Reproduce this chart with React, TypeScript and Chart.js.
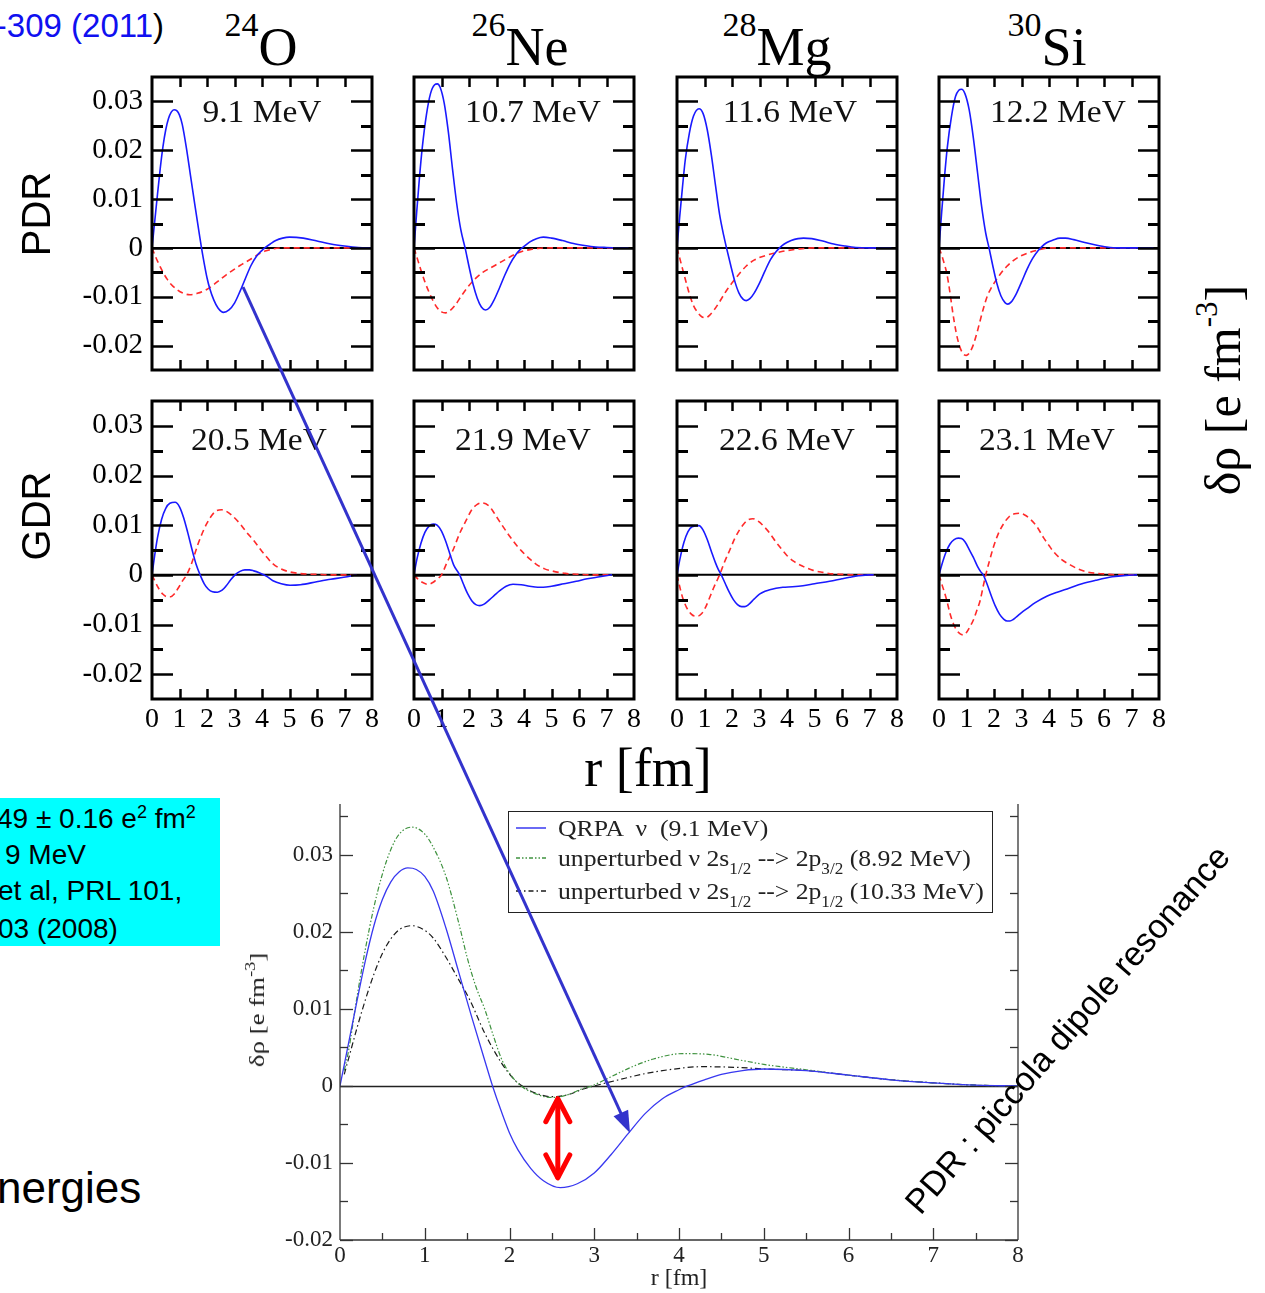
import React, { useEffect, useRef } from "react";
import { Chart, registerables } from "chart.js";

Chart.register(...registerables);

// ---------------- tick labels / ranges ----------------
const R_TICKS = [0, 1, 2, 3, 4, 5, 6, 7, 8];
const SMALL_DRHO_TICKS = [-0.02, -0.01, 0, 0.01, 0.02, 0.03];
const BIG_DRHO_TICKS = [-0.02, -0.01, 0, 0.01, 0.02, 0.03];
const SMALL_DRHO_MIN = -0.025;
const SMALL_DRHO_MAX = 0.035;
const BIG_DRHO_MIN = -0.02;
const BIG_DRHO_MAX = 0.0366;
const R_MIN = 0;
const R_MAX = 8;

// ---------------- categories ----------------
const NUCLEUS_MASS = ["24", "26", "28", "30"];
const NUCLEUS_SYMBOL = ["O", "Ne", "Mg", "Si"];
const PDR_ENERGY = ["9.1 MeV", "10.7 MeV", "11.6 MeV", "12.2 MeV"];
const GDR_ENERGY = ["20.5 MeV", "21.9 MeV", "22.6 MeV", "23.1 MeV"];

// ---------------- series: [r (fm), delta rho (e fm^-3)] ----------------
// 24O PDR 9.1 MeV neutron (QRPA) transition density – also the big panel curve
const O24_PDR_N = [[0,0],[0.1,0.0055],[0.2,0.011],[0.3,0.0163],[0.4,0.0208],[0.5,0.0242],[0.6,0.0265],[0.7,0.0278],[0.8,0.0283],[0.9,0.0281],[1.0,0.0272],[1.1,0.0253],[1.25,0.0205],[1.4,0.0148],[1.55,0.0091],[1.7,0.0036],[1.8,0],[1.9,-0.0032],[2.0,-0.0061],[2.1,-0.0083],[2.25,-0.0107],[2.4,-0.0123],[2.6,-0.0132],[2.8,-0.0127],[3.0,-0.0113],[3.2,-0.0089],[3.4,-0.0062],[3.6,-0.0036],[3.8,-0.0017],[4.0,-0.0005],[4.1,0],[4.3,0.0008],[4.5,0.0015],[4.75,0.002],[5.0,0.0022],[5.5,0.002],[6.0,0.0014],[6.5,0.0008],[7.0,0.0004],[7.5,0.0001],[8.0,0]];
const O24_PDR_P = [[0,0],[0.1,-0.0014],[0.2,-0.0027],[0.3,-0.0039],[0.41,-0.0051],[0.55,-0.0064],[0.7,-0.0075],[0.9,-0.0085],[1.1,-0.0092],[1.38,-0.0096],[1.65,-0.0093],[1.99,-0.0085],[2.25,-0.0075],[2.47,-0.0065],[2.7,-0.0055],[2.96,-0.0045],[3.2,-0.0036],[3.44,-0.0028],[3.7,-0.0019],[3.93,-0.0011],[4.15,-0.0006],[4.41,-0.0002],[4.8,0],[6,0],[7.3,0]];

const NE26_PDR_N = [[0,0],[0.1,0.0075],[0.2,0.0145],[0.3,0.0205],[0.45,0.0272],[0.6,0.0316],[0.75,0.0334],[0.85,0.0336],[0.95,0.0329],[1.1,0.0296],[1.25,0.0237],[1.4,0.0162],[1.55,0.0092],[1.7,0.0038],[1.87,-0.0003],[2.0,-0.0038],[2.15,-0.0075],[2.3,-0.0103],[2.45,-0.0121],[2.6,-0.0127],[2.75,-0.0122],[2.9,-0.0108],[3.1,-0.0083],[3.3,-0.0056],[3.5,-0.0032],[3.7,-0.0014],[3.85,-0.0004],[4.0,0.0003],[4.2,0.0012],[4.45,0.0019],[4.7,0.0022],[5.0,0.002],[5.4,0.0015],[5.8,0.0009],[6.2,0.0005],[6.6,0.0002],[7.0,0.0001],[7.8,0]];
const NE26_PDR_P = [[0,0],[0.1,-0.0018],[0.25,-0.0045],[0.4,-0.007],[0.55,-0.0091],[0.7,-0.0109],[0.85,-0.0123],[1.0,-0.0131],[1.15,-0.0133],[1.3,-0.0129],[1.5,-0.0117],[1.75,-0.0096],[2.0,-0.0077],[2.25,-0.0062],[2.5,-0.005],[2.75,-0.0042],[3.0,-0.0034],[3.25,-0.0026],[3.5,-0.0018],[3.75,-0.0011],[4.0,-0.0006],[4.25,-0.0003],[4.5,-0.0001],[5,0],[6,0],[7.3,0]];

const MG28_PDR_N = [[0,0],[0.1,0.0065],[0.2,0.0125],[0.3,0.018],[0.45,0.0235],[0.6,0.027],[0.8,0.0285],[0.95,0.0275],[1.1,0.0242],[1.25,0.019],[1.4,0.0128],[1.55,0.0068],[1.7,0.0025],[1.8,0],[1.95,-0.0035],[2.1,-0.0068],[2.25,-0.0092],[2.4,-0.0105],[2.52,-0.0108],[2.65,-0.0104],[2.8,-0.0093],[3.0,-0.0072],[3.2,-0.0047],[3.4,-0.0024],[3.6,-0.0008],[3.73,0],[3.9,0.0008],[4.15,0.0015],[4.4,0.0019],[4.6,0.002],[4.9,0.0019],[5.3,0.0014],[5.7,0.0008],[6.1,0.0004],[6.5,0.0001],[7.0,0],[7.8,0]];
const MG28_PDR_P = [[0,0],[0.1,-0.0021],[0.22,-0.0047],[0.35,-0.0074],[0.46,-0.0096],[0.6,-0.0118],[0.75,-0.0132],[0.9,-0.0141],[1.04,-0.0143],[1.2,-0.0137],[1.35,-0.0127],[1.53,-0.0112],[1.7,-0.0096],[1.85,-0.0083],[2.04,-0.0069],[2.25,-0.0054],[2.52,-0.0037],[2.8,-0.0025],[3.25,-0.0015],[3.85,-0.0007],[4.46,-0.0002],[5.0,0],[7.3,0]];

const SI30_PDR_N = [[0,0],[0.1,0.0075],[0.2,0.0145],[0.3,0.0205],[0.45,0.0268],[0.6,0.031],[0.72,0.0323],[0.82,0.0325],[0.95,0.0315],[1.1,0.0282],[1.25,0.0225],[1.4,0.0155],[1.55,0.0085],[1.7,0.003],[1.82,0],[1.95,-0.0035],[2.1,-0.0072],[2.25,-0.0098],[2.4,-0.0112],[2.5,-0.0115],[2.62,-0.0111],[2.8,-0.0095],[3.0,-0.007],[3.2,-0.0044],[3.4,-0.0022],[3.6,-0.0006],[3.73,0.0002],[3.9,0.001],[4.15,0.0016],[4.4,0.002],[4.6,0.002],[4.9,0.0017],[5.3,0.0011],[5.7,0.0006],[6.1,0.0002],[6.5,0],[7.8,0]];
const SI30_PDR_P = [[0,0],[0.1,-0.0015],[0.2,-0.0034],[0.28,-0.0051],[0.4,-0.0092],[0.5,-0.0132],[0.62,-0.0172],[0.74,-0.02],[0.87,-0.0216],[1.0,-0.022],[1.12,-0.0214],[1.25,-0.0198],[1.38,-0.0174],[1.5,-0.0148],[1.63,-0.0121],[1.76,-0.0098],[1.9,-0.0082],[2.04,-0.0069],[2.25,-0.0052],[2.46,-0.0038],[2.7,-0.0026],[2.95,-0.0017],[3.25,-0.001],[3.56,-0.0005],[4.05,0],[7.3,0]];

const O24_GDR_N = [[0,0],[0.1,0.004],[0.2,0.0075],[0.35,0.0112],[0.5,0.0134],[0.65,0.0144],[0.84,0.0146],[1.0,0.0137],[1.15,0.0115],[1.3,0.0085],[1.45,0.0052],[1.6,0.0022],[1.75,0],[1.9,-0.0018],[2.05,-0.0029],[2.2,-0.0034],[2.38,-0.0035],[2.55,-0.0031],[2.7,-0.0022],[2.85,-0.0011],[3.02,0],[3.2,0.0007],[3.38,0.001],[3.54,0.001],[3.7,0.0008],[3.9,0.0004],[4.17,-0.0003],[4.4,-0.0012],[4.7,-0.0018],[5.02,-0.0021],[5.4,-0.002],[5.99,-0.0014],[6.5,-0.0009],[6.97,-0.0005],[7.44,0]];
const O24_GDR_P = [[0,0],[0.1,-0.0012],[0.25,-0.0028],[0.4,-0.0039],[0.55,-0.0044],[0.68,-0.0044],[0.82,-0.0038],[0.95,-0.0027],[1.1,-0.0013],[1.26,0],[1.44,0.0023],[1.68,0.0063],[1.99,0.0103],[2.29,0.0127],[2.53,0.0131],[2.7,0.0128],[2.9,0.012],[3.2,0.0103],[3.45,0.0085],[3.69,0.007],[4.0,0.0047],[4.17,0.0036],[4.4,0.0022],[4.65,0.0013],[5.0,0.0006],[5.5,0.0002],[6.0,0.0001],[6.5,0],[7.44,0]];

const NE26_GDR_N = [[0,0],[0.1,0.003],[0.25,0.0063],[0.4,0.0086],[0.55,0.0098],[0.7,0.0102],[0.84,0.01],[1.0,0.0088],[1.15,0.0068],[1.3,0.0043],[1.45,0.0019],[1.66,0],[1.8,-0.0019],[1.95,-0.0038],[2.1,-0.0052],[2.25,-0.006],[2.39,-0.0062],[2.55,-0.0059],[2.75,-0.005],[2.95,-0.004],[3.12,-0.0032],[3.35,-0.0023],[3.6,-0.0019],[3.9,-0.002],[4.2,-0.0023],[4.5,-0.0025],[4.7,-0.0025],[5.0,-0.0023],[5.45,-0.0018],[5.9,-0.0013],[6.3,-0.0008],[6.75,-0.0004],[7.2,0]];
const NE26_GDR_P = [[0,0],[0.15,-0.0009],[0.3,-0.0015],[0.5,-0.0019],[0.7,-0.0015],[0.85,-0.0008],[1.0,0],[1.2,0.0025],[1.42,0.005],[1.65,0.0082],[1.9,0.011],[2.1,0.0131],[2.3,0.0142],[2.45,0.0145],[2.7,0.014],[2.85,0.013],[3.0,0.0117],[3.25,0.0096],[3.5,0.0076],[3.75,0.0058],[4.0,0.0043],[4.25,0.003],[4.5,0.0019],[4.75,0.0012],[5.0,0.0008],[5.5,0.0003],[6.0,0.0001],[6.5,0],[7.2,0]];

const MG28_GDR_N = [[0,0],[0.1,0.003],[0.25,0.0065],[0.4,0.0087],[0.55,0.0097],[0.8,0.0099],[0.95,0.009],[1.1,0.0071],[1.25,0.0047],[1.4,0.0024],[1.5,0.0011],[1.61,0],[1.75,-0.0017],[1.9,-0.0035],[2.05,-0.005],[2.2,-0.006],[2.35,-0.0064],[2.46,-0.0064],[2.6,-0.006],[2.8,-0.0049],[3.0,-0.0039],[3.2,-0.0033],[3.37,-0.003],[3.6,-0.0027],[3.85,-0.0025],[4.2,-0.0024],[4.58,-0.0022],[5.0,-0.0018],[5.55,-0.0013],[6.0,-0.0008],[6.28,-0.0005],[6.6,-0.0002],[7.0,0],[7.15,0]];
const MG28_GDR_P = [[0,0],[0.1,-0.0024],[0.2,-0.0045],[0.35,-0.0066],[0.5,-0.0078],[0.65,-0.0083],[0.76,-0.0083],[0.9,-0.0078],[1.05,-0.0064],[1.2,-0.0044],[1.35,-0.0024],[1.45,-0.0012],[1.55,0],[1.7,0.0022],[1.92,0.005],[2.1,0.0073],[2.28,0.0091],[2.45,0.0104],[2.6,0.0111],[2.76,0.0113],[2.95,0.0108],[3.15,0.0098],[3.37,0.0084],[3.6,0.0066],[3.8,0.0052],[3.98,0.004],[4.25,0.0027],[4.58,0.0017],[4.95,0.0009],[5.3,0.0005],[5.65,0.0002],[6.0,0.0001],[6.5,0],[7.15,0]];

const SI30_GDR_N = [[0,0],[0.1,0.002],[0.25,0.0045],[0.4,0.0062],[0.55,0.0071],[0.7,0.0074],[0.82,0.0073],[0.95,0.0066],[1.1,0.0051],[1.25,0.0035],[1.4,0.0017],[1.52,0.0006],[1.61,0],[1.75,-0.0019],[1.9,-0.0042],[2.05,-0.0063],[2.2,-0.0079],[2.35,-0.0089],[2.48,-0.0093],[2.58,-0.0093],[2.7,-0.009],[2.85,-0.0083],[3.0,-0.0076],[3.2,-0.0068],[3.5,-0.0056],[3.92,-0.0043],[4.3,-0.0035],[4.73,-0.0027],[5.2,-0.0018],[5.7,-0.0011],[6.3,-0.0004],[6.8,-0.0001],[7.2,0]];
const SI30_GDR_P = [[0,0],[0.1,-0.0018],[0.28,-0.0051],[0.4,-0.0078],[0.52,-0.0098],[0.65,-0.0112],[0.77,-0.0119],[0.89,-0.0121],[1.0,-0.0116],[1.12,-0.0105],[1.25,-0.0091],[1.38,-0.0071],[1.5,-0.0051],[1.6,-0.0025],[1.7,0],[1.84,0.0029],[1.98,0.0056],[2.15,0.0082],[2.35,0.0103],[2.55,0.0117],[2.75,0.0123],[2.92,0.0124],[3.1,0.0121],[3.3,0.0113],[3.56,0.0097],[3.8,0.0075],[4.0,0.0059],[4.16,0.0047],[4.45,0.0031],[4.77,0.002],[5.05,0.0012],[5.38,0.0006],[5.7,0.0003],[6.0,0.0002],[6.5,0],[7.2,0]];

// big panel: unperturbed 2s1/2 -> 2p3/2 (8.92 MeV) and 2s1/2 -> 2p1/2 (10.33 MeV)
const UNPERT_2S_2P32 = [[0.05,0.002],[0.1,0.0045],[0.2,0.0115],[0.3,0.0178],[0.4,0.0232],[0.5,0.0275],[0.6,0.0307],[0.7,0.0327],[0.85,0.0336],[1.0,0.0327],[1.1,0.031],[1.25,0.0272],[1.4,0.0212],[1.5,0.0167],[1.6,0.013],[1.71,0.0099],[1.81,0.0065],[1.91,0.0034],[2.03,0.0012],[2.15,-0.0001],[2.3,-0.001],[2.5,-0.0015],[2.7,-0.0011],[2.85,-0.0004],[2.97,0],[3.2,0.0012],[3.45,0.0025],[3.7,0.0035],[4.04,0.0042],[4.35,0.0041],[4.7,0.0034],[5.0,0.0028],[5.5,0.0021],[6.0,0.0014],[6.5,0.0008],[7.0,0.0004],[7.5,0.0001],[8.0,0]];
const UNPERT_2S_2P12 = [[0.05,0.0015],[0.1,0.0035],[0.2,0.0075],[0.3,0.0112],[0.4,0.0145],[0.5,0.0172],[0.6,0.0191],[0.7,0.0203],[0.85,0.0208],[1.0,0.0202],[1.1,0.0192],[1.25,0.0167],[1.4,0.0138],[1.53,0.0112],[1.71,0.0068],[1.91,0.0029],[2.05,0.0009],[2.15,0],[2.3,-0.0009],[2.5,-0.0014],[2.7,-0.0011],[2.87,-0.0004],[3.0,0],[3.29,0.0008],[3.6,0.0016],[3.88,0.0021],[4.27,0.0025],[4.7,0.0024],[5.0,0.0022],[5.5,0.002],[6.0,0.0014],[6.5,0.0008],[7.0,0.0004],[7.5,0.0001],[8.0,0]];

// red double-arrow annotation (r, from, to)
const GAP_ARROW_R = 2.57;
const GAP_ARROW_FROM = -0.0014;
const GAP_ARROW_TO = -0.0122;

const PDR_N = [O24_PDR_N, NE26_PDR_N, MG28_PDR_N, SI30_PDR_N];
const PDR_P = [O24_PDR_P, NE26_PDR_P, MG28_PDR_P, SI30_PDR_P];
const GDR_N = [O24_GDR_N, NE26_GDR_N, MG28_GDR_N, SI30_GDR_N];
const GDR_P = [O24_GDR_P, NE26_GDR_P, MG28_GDR_P, SI30_GDR_P];

// ---------------- layout ----------------
const PANEL_LEFT = [152, 414, 677, 939];
const PANEL_W = 220;
const ROW_TOP = [77, 401];
const ROW_H = [293, 298];
const TITLE_CX = [261, 520, 777, 1047];
const PDR_LABEL_DX = [0, 9, 3, 8.5];
const GDR_LABEL_DX = [-3.5, -1, -0.5, -2.5];
const BIG = { left: 340, right: 1018, top: 804, bottom: 1240 };

const SERIF = "'Liberation Serif', 'Times New Roman', serif";
const SANS = "'Liberation Sans', Arial, sans-serif";

const toXY = (a: number[][]) => a.map(([x, y]) => ({ x, y }));
const fmt = (v: number) => (Math.abs(v) < 1e-9 ? "0" : v.toFixed(2));
const noPad = (s: any) => { s.paddingTop = 0; s.paddingBottom = 0; s.paddingLeft = 0; s.paddingRight = 0; };

const smallFrame = {
  id: "smallFrame",
  beforeDatasetsDraw(chart: any) {
    const { ctx, chartArea: a, scales } = chart;
    const y0 = scales.y.getPixelForValue(0);
    ctx.save();
    ctx.strokeStyle = "#000";
    ctx.lineWidth = 2;
    ctx.beginPath();
    ctx.moveTo(a.left, y0);
    ctx.lineTo(a.right, y0);
    ctx.stroke();
    ctx.restore();
  },
  afterDatasetsDraw(chart: any) {
    const { ctx, chartArea: a, scales } = chart;
    const x = scales.x, y = scales.y;
    ctx.save();
    ctx.strokeStyle = "#000";
    const seg = (x1: number, y1: number, x2: number, y2: number) => {
      ctx.beginPath();
      ctx.moveTo(x1, y1);
      ctx.lineTo(x2, y2);
      ctx.stroke();
    };
    const yv = y.ticks.map((t: any) => t.value);
    ctx.lineWidth = 2.5;
    yv.forEach((v: number) => {
      const p = Math.round(y.getPixelForValue(v)) + 0.5;
      seg(a.left, p, a.left + 21, p);
      seg(a.right, p, a.right - 21, p);
    });
    ctx.lineWidth = 3;
    for (let i = 0; i < yv.length; i++) {
      const step = i + 1 < yv.length ? yv[i + 1] - yv[i] : yv[i] - yv[i - 1];
      [yv[i] - step / 2, yv[i] + step / 2].forEach((m) => {
        if (m <= y.min + 1e-6 || m >= y.max - 1e-6) return;
        const p = Math.round(y.getPixelForValue(m)) + 0.5;
        seg(a.left, p, a.left + 11, p);
        seg(a.right, p, a.right - 11, p);
      });
    }
    ctx.lineWidth = 2.5;
    x.ticks.forEach((t: any) => {
      if (t.value <= x.min || t.value >= x.max) return;
      const p = Math.round(x.getPixelForValue(t.value)) + 0.5;
      seg(p, a.bottom, p, a.bottom - 10);
      seg(p, a.top, p, a.top + 10);
    });
    ctx.lineWidth = 3;
    ctx.strokeRect(a.left, a.top, a.right - a.left, a.bottom - a.top);
    ctx.restore();
  },
};

const bigFrame = {
  id: "bigFrame",
  beforeDatasetsDraw(chart: any) {
    const { ctx, chartArea: a, scales } = chart;
    const y0 = Math.round(scales.y.getPixelForValue(0)) + 0.5;
    ctx.save();
    ctx.strokeStyle = "#222";
    ctx.lineWidth = 1.3;
    ctx.beginPath();
    ctx.moveTo(a.left, y0);
    ctx.lineTo(a.right, y0);
    ctx.stroke();
    ctx.restore();
  },
  afterDatasetsDraw(chart: any) {
    const { ctx, chartArea: a, scales } = chart;
    const x = scales.x, y = scales.y;
    ctx.save();
    ctx.strokeStyle = "#333";
    ctx.lineWidth = 1.3;
    const seg = (x1: number, y1: number, x2: number, y2: number) => {
      ctx.beginPath();
      ctx.moveTo(x1, y1);
      ctx.lineTo(x2, y2);
      ctx.stroke();
    };
    seg(a.left, a.top, a.left, a.bottom);
    seg(a.right, a.top, a.right, a.bottom);
    seg(a.left, a.bottom, a.right, a.bottom);
    const yv = y.ticks.map((t: any) => t.value);
    const ystep = yv[1] - yv[0];
    yv.forEach((v: number) => {
      const p = Math.round(y.getPixelForValue(v)) + 0.5;
      seg(a.left, p, a.left + 13, p);
      seg(a.right, p, a.right - 13, p);
      const m = v + ystep / 2;
      if (m < y.max) {
        const q = Math.round(y.getPixelForValue(m)) + 0.5;
        seg(a.left, q, a.left + 8, q);
        seg(a.right, q, a.right - 8, q);
      }
    });
    const xv = x.ticks.map((t: any) => t.value);
    const xstep = xv[1] - xv[0];
    xv.forEach((v: number) => {
      const p = Math.round(x.getPixelForValue(v)) + 0.5;
      if (v > x.min && v < x.max) seg(p, a.bottom, p, a.bottom - 12);
      const m = v + xstep / 2;
      if (m < x.max) {
        const q = Math.round(x.getPixelForValue(m)) + 0.5;
        seg(q, a.bottom, q, a.bottom - 7);
      }
    });
    // red double arrow
    const ax = x.getPixelForValue(GAP_ARROW_R);
    const ay1 = y.getPixelForValue(GAP_ARROW_FROM);
    const ay2 = y.getPixelForValue(GAP_ARROW_TO);
    ctx.strokeStyle = "#ff0000";
    ctx.lineWidth = 5;
    ctx.lineCap = "round";
    ctx.lineJoin = "round";
    seg(ax, ay1 + 3, ax, ay2 - 3);
    ctx.beginPath();
    ctx.moveTo(ax - 12, ay1 + 25);
    ctx.lineTo(ax, ay1 + 2);
    ctx.lineTo(ax + 12, ay1 + 25);
    ctx.stroke();
    ctx.beginPath();
    ctx.moveTo(ax - 12, ay2 - 25);
    ctx.lineTo(ax, ay2 - 2);
    ctx.lineTo(ax + 12, ay2 - 25);
    ctx.stroke();
    ctx.restore();
  },
};

function SmallPanel(props: { col: number; row: number; neutron: number[][]; proton: number[][] }) {
  const ref = useRef<HTMLCanvasElement | null>(null);
  const { col, row } = props;
  const left = PANEL_LEFT[col];
  const top = ROW_TOP[row];
  const h = ROW_H[row];
  const PL = 100, PT = 8, PR = 16, PB = 44;
  const W = PL + PANEL_W + PR;
  const H = PT + h + PB;
  useEffect(() => {
    const chart = new Chart(ref.current as HTMLCanvasElement, {
      type: "line",
      data: {
        datasets: [
          { data: toXY(props.neutron), borderColor: "#1a1aff", borderWidth: 1.6, pointRadius: 0, fill: false, cubicInterpolationMode: "monotone" },
          { data: toXY(props.proton), borderColor: "#ff2a2a", borderWidth: 1.6, borderDash: [6, 4], pointRadius: 0, fill: false, cubicInterpolationMode: "monotone" },
        ],
      } as any,
      options: {
        animation: false,
        responsive: false,
        maintainAspectRatio: false,
        events: [],
        layout: { autoPadding: false, padding: { left: 0, top: PT, right: PR, bottom: 0 } },
        plugins: { legend: { display: false }, tooltip: { enabled: false } },
        scales: {
          x: {
            type: "linear",
            min: R_MIN,
            max: R_MAX,
            grid: { display: false, drawTicks: false },
            border: { display: false },
            afterBuildTicks: (s: any) => { s.ticks = R_TICKS.map((v) => ({ value: v })); },
            afterFit: (s: any) => { s.height = PB; noPad(s); },
            ticks: { display: row === 1, padding: 4, color: "#000", autoSkip: false, maxRotation: 0, minRotation: 0, font: { family: SERIF, size: 28 }, callback: (v: any) => String(v) },
          },
          y: {
            type: "linear",
            min: SMALL_DRHO_MIN,
            max: SMALL_DRHO_MAX,
            grid: { display: false, drawTicks: false },
            border: { display: false },
            afterBuildTicks: (s: any) => { s.ticks = SMALL_DRHO_TICKS.map((v) => ({ value: v })); },
            afterFit: (s: any) => { s.width = PL; noPad(s); },
            ticks: { display: col === 0, padding: 9, color: "#000", autoSkip: false, font: { family: SERIF, size: 29 }, callback: (v: any) => fmt(Number(v)) },
          },
        },
      } as any,
      plugins: [smallFrame],
    });
    return () => chart.destroy();
  }, []);
  return <canvas ref={ref} width={W} height={H} style={{ position: "absolute", left: left - PL, top: top - PT, width: W, height: H }} />;
}

function BigPanel() {
  const ref = useRef<HTMLCanvasElement | null>(null);
  const CL = 230, CT = 795, CW = 800, CH = 498;
  useEffect(() => {
    const chart = new Chart(ref.current as HTMLCanvasElement, {
      type: "line",
      data: {
        datasets: [
          { data: toXY(O24_PDR_N), borderColor: "#3838f0", borderWidth: 1.3, pointRadius: 0, fill: false, cubicInterpolationMode: "monotone" },
          { data: toXY(UNPERT_2S_2P32), borderColor: "#3f923f", borderWidth: 1.2, borderDash: [5, 2, 1.5, 2, 1.5, 2], pointRadius: 0, fill: false, cubicInterpolationMode: "monotone" },
          { data: toXY(UNPERT_2S_2P12), borderColor: "#1a1a1a", borderWidth: 1.2, borderDash: [6, 3, 1.5, 3], pointRadius: 0, fill: false, cubicInterpolationMode: "monotone" },
        ],
      } as any,
      options: {
        animation: false,
        responsive: false,
        maintainAspectRatio: false,
        events: [],
        layout: { autoPadding: false, padding: { left: 0, top: BIG.top - CT, right: CL + CW - BIG.right, bottom: 0 } },
        plugins: { legend: { display: false }, tooltip: { enabled: false } },
        scales: {
          x: {
            type: "linear",
            min: R_MIN,
            max: R_MAX,
            grid: { display: false, drawTicks: false },
            border: { display: false },
            afterBuildTicks: (s: any) => { s.ticks = R_TICKS.map((v) => ({ value: v })); },
            afterFit: (s: any) => { s.height = CT + CH - BIG.bottom; noPad(s); },
            title: { display: true, text: "r [fm]", color: "#222", font: { family: SERIF, size: 24 }, padding: 0 },
            ticks: { padding: 2, color: "#222", autoSkip: false, maxRotation: 0, minRotation: 0, font: { family: SERIF, size: 23 }, callback: (v: any) => String(v) },
          },
          y: {
            type: "linear",
            min: BIG_DRHO_MIN,
            max: BIG_DRHO_MAX,
            grid: { display: false, drawTicks: false },
            border: { display: false },
            afterBuildTicks: (s: any) => { s.ticks = BIG_DRHO_TICKS.map((v) => ({ value: v })); },
            afterFit: (s: any) => { s.width = BIG.left - CL; noPad(s); },
            ticks: { padding: 7, color: "#222", autoSkip: false, font: { family: SERIF, size: 23 }, callback: (v: any) => fmt(Number(v)) },
          },
        },
      } as any,
      plugins: [bigFrame],
    });
    return () => chart.destroy();
  }, []);
  return <canvas ref={ref} width={CW} height={CH} style={{ position: "absolute", left: CL, top: CT, width: CW, height: CH }} />;
}

function Sub({ children }: { children: any }) {
  return <span style={{ fontSize: 16, position: "relative", top: 8, lineHeight: 0 }}>{children}</span>;
}

function Legend() {
  const row = (top: number, sample: any, content: any) => (
    <div style={{ position: "absolute", left: 0, top: top - 14, height: 28, width: "100%" }}>
      <svg width={32} height={28} style={{ position: "absolute", left: 6, top: 0 }}>{sample}</svg>
      <div style={{ position: "absolute", left: 49, top: 0, lineHeight: "28px", fontSize: 24, fontFamily: SERIF, color: "#222", whiteSpace: "pre", transform: "scaleX(1.07)", transformOrigin: "0 50%" }}>{content}</div>
    </div>
  );
  return (
    <div style={{ position: "absolute", left: 508, top: 811, width: 485, height: 102, border: "1.3px solid #222", boxSizing: "border-box" }}>
      {row(16, <line x1={1} y1={14} x2={31} y2={14} stroke="#3838f0" strokeWidth={1.5} />, "QRPA  ν  (9.1 MeV)")}
      {row(46, <line x1={1} y1={14} x2={31} y2={14} stroke="#3f923f" strokeWidth={1.3} strokeDasharray="4 2 1.5 2 1.5 2" />, <>unperturbed ν 2s<Sub>1/2</Sub> --&gt; 2p<Sub>3/2</Sub> (8.92 MeV)</>)}
      {row(79, <line x1={1} y1={14} x2={31} y2={14} stroke="#1a1a1a" strokeWidth={1.3} strokeDasharray="5 3 1.5 3" />, <>unperturbed ν 2s<Sub>1/2</Sub> --&gt; 2p<Sub>1/2</Sub> (10.33 MeV)</>)}
    </div>
  );
}

function BlueArrow() {
  const x1 = 243, y1 = 287, x2 = 630, y2 = 1133;
  const len = Math.hypot(x2 - x1, y2 - y1);
  const ux = (x2 - x1) / len, uy = (y2 - y1) / len;
  const hl = 22, hw = 8;
  const bx = x2 - ux * hl, by = y2 - uy * hl;
  const pts = `${x2},${y2} ${bx - uy * hw},${by + ux * hw} ${bx + uy * hw},${by - ux * hw}`;
  return (
    <svg width={1265} height={1293} style={{ position: "absolute", left: 0, top: 0, pointerEvents: "none" }}>
      <line x1={x1} y1={y1} x2={bx + ux * 2} y2={by + uy * 2} stroke="#3333cc" strokeWidth={3} />
      <polygon points={pts} fill="#3333cc" />
    </svg>
  );
}

const abs = (o: any) => ({ position: "absolute", whiteSpace: "nowrap", ...o });

export default function App() {
  return (
    <div style={{ position: "absolute", left: 0, top: 0, width: 1265, height: 1293, overflow: "hidden", background: "#fff" }}>
      {/* top-left reference */}
      <div style={abs({ right: 1265 - 164, top: 9, fontFamily: SANS, fontSize: 33, lineHeight: "33px" })}>
        <span style={{ color: "#1010f0" }}>-309 (2011</span>
        <span style={{ color: "#000" }}>)</span>
      </div>

      {/* nucleus titles */}
      {NUCLEUS_SYMBOL.map((s, i) => (
        <div key={s} style={abs({ left: TITLE_CX[i] - 150, width: 300, textAlign: "center", top: 20, fontFamily: SERIF, fontSize: 54, lineHeight: "54px", color: "#000" })}>
          <span style={{ fontSize: 34, position: "relative", top: -29 }}>{NUCLEUS_MASS[i]}</span>
          {s}
        </div>
      ))}

      {PANEL_LEFT.map((_, i) => (
        <SmallPanel key={"p" + i} col={i} row={0} neutron={PDR_N[i]} proton={PDR_P[i]} />
      ))}
      {PANEL_LEFT.map((_, i) => (
        <SmallPanel key={"g" + i} col={i} row={1} neutron={GDR_N[i]} proton={GDR_P[i]} />
      ))}

      {/* energy labels */}
      {PDR_ENERGY.map((e, i) => (
        <div key={e} style={abs({ left: PANEL_LEFT[i] + PANEL_W / 2 + PDR_LABEL_DX[i] - 100, width: 200, textAlign: "center", top: ROW_TOP[0] + 35 - 16, fontFamily: SERIF, fontSize: 31, lineHeight: "31px", color: "#111", transform: "scaleX(1.08)" })}>{e}</div>
      ))}
      {GDR_ENERGY.map((e, i) => (
        <div key={e} style={abs({ left: PANEL_LEFT[i] + PANEL_W / 2 + GDR_LABEL_DX[i] - 100, width: 200, textAlign: "center", top: ROW_TOP[1] + 39 - 16, fontFamily: SERIF, fontSize: 31, lineHeight: "31px", color: "#111", transform: "scaleX(1.08)" })}>{e}</div>
      ))}

      {/* row labels */}
      <div style={abs({ left: 36, top: 214, transform: "translate(-50%,-50%) rotate(-90deg)", fontFamily: SANS, fontSize: 40, lineHeight: "40px" })}>PDR</div>
      <div style={abs({ left: 36, top: 516, transform: "translate(-50%,-50%) rotate(-90deg)", fontFamily: SANS, fontSize: 40, lineHeight: "40px" })}>GDR</div>

      {/* right axis label */}
      <div style={abs({ left: 1226, top: 390, transform: "translate(-50%,-50%) rotate(-90deg)", fontFamily: SERIF, fontSize: 50, lineHeight: "50px" })}>
        δρ [e fm<span style={{ fontSize: 31, position: "relative", top: -23 }}>-3</span>]
      </div>

      {/* r [fm] */}
      <div style={abs({ left: 648 - 150, width: 300, textAlign: "center", top: 741, fontFamily: SERIF, fontSize: 54, lineHeight: "54px" })}>r [fm]</div>

      {/* cyan box */}
      <div style={{ position: "absolute", left: 0, top: 798, width: 220, height: 148, background: "#00ffff" }} />
      <div style={abs({ left: -3, top: 805, fontFamily: SANS, fontSize: 28, lineHeight: "28px" })}>
        49 ± 0.16 e<span style={{ fontSize: 18, position: "relative", top: -10 }}>2</span> fm<span style={{ fontSize: 18, position: "relative", top: -10 }}>2</span>
      </div>
      <div style={abs({ left: 5, top: 841, fontFamily: SANS, fontSize: 28, lineHeight: "28px" })}>9 MeV</div>
      <div style={abs({ left: -2, top: 877, fontFamily: SANS, fontSize: 28, lineHeight: "28px" })}>et al, PRL 101,</div>
      <div style={abs({ left: -2, top: 915, fontFamily: SANS, fontSize: 28, lineHeight: "28px" })}>03 (2008)</div>

      <div style={abs({ left: -3, top: 1166, fontFamily: SANS, fontSize: 44, lineHeight: "44px" })}>nergies</div>

      <BigPanel />
      <Legend />

      {/* big panel y title */}
      <div style={abs({ left: 258, top: 1010, transform: "translate(-50%,-50%) rotate(-90deg) scaleX(1.22)", fontFamily: SERIF, fontSize: 22, lineHeight: "22px", color: "#222" })}>
        δρ  [e fm<span style={{ fontSize: 15, position: "relative", top: -9 }}>-3</span>]
      </div>

      {/* diagonal note */}
      <div style={abs({ left: 1067, top: 1029, transform: "translate(-50%,-50%) rotate(-49deg)", fontFamily: SANS, fontSize: 34, lineHeight: "34px" })}>PDR : piccola dipole resonance</div>

      <BlueArrow />
    </div>
  );
}
